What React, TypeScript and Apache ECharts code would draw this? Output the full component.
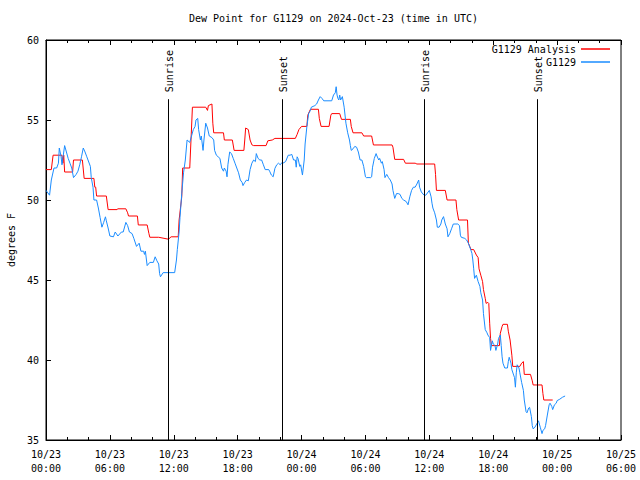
import React, { useEffect, useRef } from 'react';
import * as echarts from 'echarts';

// Times are minutes since 2024-10-23 00:00 UTC
const anaMinutes = [0, 30, 40, 90, 95, 100, 105, 150, 155, 205, 215, 270, 275, 280, 285, 340, 350, 400, 405, 450, 460, 465, 515, 520, 570, 580, 585, 635, 690, 705, 745, 750, 765, 770, 810, 820, 825, 900, 910, 915, 935, 940, 945, 1000, 1005, 1050, 1060, 1115, 1120, 1125, 1140, 1150, 1160, 1170, 1240, 1250, 1275, 1290, 1405, 1415, 1425, 1440, 1470, 1475, 1490, 1535, 1540, 1550, 1595, 1605, 1610, 1655, 1665, 1715, 1720, 1730, 1780, 1790, 1835, 1845, 1950, 1955, 1965, 2015, 2025, 2080, 2090, 2190, 2195, 2200, 2250, 2260, 2310, 2315, 2325, 2375, 2380, 2395, 2410, 2425, 2435, 2440, 2450, 2460, 2465, 2475, 2480, 2490, 2495, 2500, 2505, 2510, 2555, 2560, 2570, 2575, 2600, 2605, 2615, 2625, 2630, 2670, 2680, 2690, 2695, 2730, 2740, 2745, 2795, 2800, 2805, 2855];
const anaValues = [51.9, 51.9, 52.8, 52.8, 52.3, 52.8, 51.75, 51.75, 52.5, 52.5, 51.35, 51.35, 50.8, 50.8, 50.25, 50.25, 49.4, 49.4, 49.45, 49.45, 49.2, 49.0, 49.0, 48.44, 48.44, 47.9, 47.67, 47.67, 47.55, 47.7, 47.7, 48.75, 50.2, 52.0, 52.0, 54.5, 55.8, 55.8, 55.6, 55.9, 56.0, 54.8, 54.2, 54.2, 53.75, 53.75, 53.1, 53.1, 53.75, 54.5, 54.4, 53.75, 53.45, 53.4, 53.4, 53.7, 53.75, 53.85, 53.85, 54.1, 54.4, 54.6, 54.6, 55.3, 55.67, 55.67, 55.1, 54.6, 54.6, 55.3, 55.4, 55.4, 55.04, 55.04, 54.6, 54.2, 54.2, 54.0, 54.0, 53.44, 53.44, 53.3, 52.54, 52.54, 52.3, 52.3, 52.25, 52.25, 51.6, 50.6, 50.6, 50.0, 50.0, 49.4, 48.75, 48.75, 47.3, 46.9, 46.9, 46.56, 46.4, 45.7, 45.3, 44.9, 44.4, 43.85, 43.54, 43.6, 43.54, 42.3, 41.35, 40.9, 40.9, 41.67, 42.1, 42.23, 42.23, 41.8, 41.25, 40.3, 39.6, 39.6, 39.8, 39.9, 39.1, 39.1, 38.7, 38.44, 38.44, 37.9, 37.5, 37.5];

const obsMinutes = [0, 20, 30, 45, 60, 70, 75, 85, 90, 105, 115, 125, 135, 145, 155, 170, 180, 190, 200, 210, 220, 230, 250, 255, 265, 270, 285, 295, 305, 315, 325, 335, 340, 350, 360, 380, 390, 405, 425, 435, 450, 460, 470, 485, 495, 510, 525, 535, 550, 555, 560, 570, 585, 605, 615, 625, 635, 640, 645, 660, 725, 735, 740, 750, 755, 765, 775, 785, 795, 810, 830, 840, 845, 855, 860, 870, 875, 885, 890, 900, 910, 920, 935, 945, 950, 960, 970, 980, 990, 1000, 1005, 1015, 1020, 1025, 1035, 1045, 1055, 1065, 1075, 1085, 1095, 1105, 1110, 1120, 1130, 1140, 1150, 1160, 1170, 1180, 1185, 1195, 1205, 1215, 1225, 1235, 1255, 1260, 1270, 1280, 1290, 1300, 1310, 1320, 1330, 1335, 1350, 1365, 1375, 1385, 1395, 1405, 1410, 1415, 1420, 1430, 1435, 1445, 1455, 1460, 1470, 1480, 1490, 1495, 1505, 1515, 1525, 1535, 1545, 1555, 1565, 1610, 1620, 1630, 1635, 1640, 1645, 1650, 1655, 1660, 1670, 1680, 1690, 1700, 1710, 1715, 1720, 1730, 1740, 1750, 1760, 1770, 1780, 1790, 1800, 1805, 1830, 1835, 1840, 1850, 1860, 1865, 1875, 1880, 1890, 1895, 1905, 1910, 1920, 1930, 1940, 1950, 1955, 1965, 1975, 1985, 1995, 2005, 2015, 2030, 2040, 2050, 2060, 2070, 2080, 2090, 2100, 2105, 2115, 2130, 2140, 2160, 2170, 2175, 2180, 2190, 2200, 2205, 2215, 2225, 2230, 2240, 2250, 2260, 2265, 2275, 2285, 2295, 2305, 2320, 2330, 2335, 2340, 2360, 2370, 2380, 2390, 2400, 2405, 2410, 2415, 2425, 2435, 2445, 2450, 2460, 2465, 2475, 2485, 2490, 2500, 2505, 2515, 2520, 2530, 2535, 2545, 2550, 2560, 2565, 2570, 2575, 2585, 2600, 2605, 2610, 2620, 2625, 2635, 2640, 2645, 2650, 2655, 2665, 2670, 2680, 2690, 2695, 2705, 2710, 2720, 2725, 2735, 2740, 2745, 2755, 2765, 2775, 2785, 2795, 2800, 2810, 2815, 2825, 2835, 2840, 2850, 2855, 2865, 2875, 2880, 2895, 2910, 2925];
const obsValues = [50.6, 50.3, 51.25, 52.0, 52.0, 52.3, 53.25, 52.7, 52.2, 53.4, 53.0, 52.6, 52.3, 52.0, 51.4, 51.6, 51.8, 52.2, 52.7, 53.25, 53.0, 52.7, 52.1, 51.4, 50.8, 50.0, 50.0, 49.5, 48.9, 48.3, 48.6, 48.95, 48.7, 48.25, 47.75, 47.7, 48.0, 47.75, 48.0, 48.0, 48.6, 48.4, 48.0, 47.9, 47.6, 47.1, 47.3, 46.8, 46.8, 46.6, 46.8, 45.9, 46.1, 46.1, 46.45, 46.2, 46.0, 45.4, 45.2, 45.46, 45.46, 46.25, 46.9, 48.0, 48.9, 50.4, 51.7, 52.5, 53.75, 53.6, 54.4, 54.6, 55.0, 55.1, 54.4, 53.75, 54.0, 53.1, 53.75, 54.8, 54.5, 54.0, 53.9, 53.75, 53.1, 52.8, 52.7, 52.6, 52.0, 51.8, 52.0, 51.8, 51.45, 52.2, 53.0, 52.9, 52.6, 52.3, 52.0, 51.7, 51.25, 51.1, 50.9, 51.1, 51.25, 51.2, 51.9, 52.3, 52.5, 52.4, 52.9, 52.6, 52.5, 52.5, 52.2, 51.9, 51.9, 51.8, 51.56, 51.45, 51.98, 52.2, 52.3, 52.2, 52.35, 52.3, 52.4, 52.8, 52.8, 52.85, 52.5, 52.5, 52.05, 52.7, 52.6, 52.1, 52.2, 51.56, 52.5, 53.5, 54.6, 55.4, 55.6, 55.8, 55.85, 55.9, 56.0, 56.25, 56.46, 56.35, 56.2, 56.2, 56.56, 56.7, 57.08, 56.56, 56.35, 56.25, 56.56, 56.25, 56.46, 55.8, 54.8, 54.2, 53.75, 53.4, 53.1, 53.2, 53.35, 53.3, 53.0, 52.5, 52.5, 52.1, 51.45, 51.4, 51.4, 51.45, 52.05, 52.6, 52.9, 52.75, 52.5, 52.6, 52.3, 52.4, 51.9, 51.4, 51.6, 51.4, 51.25, 51.0, 50.6, 50.1, 50.4, 50.4, 50.35, 50.1, 50.0, 49.9, 49.7, 50.2, 50.6, 50.8, 50.8, 51.0, 51.25, 50.8, 50.5, 50.3, 50.3, 50.6, 50.2, 49.8, 49.5, 49.2, 48.75, 48.3, 48.3, 48.5, 48.75, 48.96, 48.5, 48.2, 47.7, 47.9, 48.2, 48.5, 48.5, 48.5, 48.4, 47.8, 47.67, 47.6, 47.5, 47.3, 47.0, 46.67, 46.25, 45.7, 45.1, 45.3, 44.9, 44.6, 44.2, 43.75, 42.9, 41.9, 41.7, 41.56, 41.4, 40.6, 41.2, 41.0, 40.9, 40.6, 41.0, 41.35, 41.56, 40.9, 40.2, 39.8, 39.5, 39.5, 39.9, 40.17, 39.8, 39.4, 39.06, 38.9, 38.3, 39.2, 39.7, 39.5, 39.2, 38.6, 38.1, 37.5, 36.77, 36.7, 37.0, 37.04, 36.46, 35.9, 35.7, 35.8, 36.0, 36.2, 35.8, 35.4, 35.6, 35.7, 35.9, 36.56, 37.2, 37.3, 37.1, 36.9, 37.2, 37.3, 37.46, 37.55, 37.67, 37.75];

const sunMinutes = [687, 1331, 2130, 2768];
const sunLabels = ['Sunrise', 'Sunset', 'Sunrise', 'Sunset'];

const xMin = 0;
const xMax = 3240;
const xStep = 360;
const yMin = 35;
const yMax = 60;
const yStep = 5;
const sunLineTop = 56.3;

const FONT = '"DejaVu Sans Mono", "Liberation Mono", monospace';

function fmtX(v: number): string {
  const day = 23 + Math.floor(v / 1440);
  const m = v % 1440;
  const hh = String(Math.floor(m / 60)).padStart(2, '0');
  const mm = String(m % 60).padStart(2, '0');
  return `10/${day}\n${hh}:${mm}`;
}

export default function App() {
  const ref = useRef<HTMLDivElement>(null);
  useEffect(() => {
    if (!ref.current) return;
    const chart = echarts.init(ref.current, undefined, { renderer: 'svg' });
    const txt = { fontFamily: FONT, fontSize: 10, color: '#000' };
    const legendCommon = {
      orient: 'vertical' as const,
      right: 30,
      align: 'right' as const,
      itemWidth: 29,
      itemHeight: 1.5,
      icon: 'rect',
      padding: 0,
      itemGap: 0,
      selectedMode: false,
      textStyle: { ...txt, lineHeight: 12 },
    };
    const xCommon = {
      type: 'value' as const,
      min: xMin,
      max: xMax,
      interval: xStep,
      axisLine: { show: true, lineStyle: { color: '#000', width: 1 } },
      axisTick: { show: true, inside: true, length: 5, lineStyle: { color: '#000' } },
      minorTick: { show: true, splitNumber: 3, length: 3, lineStyle: { color: '#000' } },
      splitLine: { show: false },
      minorSplitLine: { show: false },
    };
    chart.setOption({
      animation: false,
      backgroundColor: '#fff',
      title: {
        text: 'Dew Point for G1129 on 2024-Oct-23 (time in UTC)',
        left: 189,
        top: 13,
        padding: 0,
        textStyle: { ...txt, fontWeight: 'normal' },
      },
      legend: [
        { ...legendCommon, top: 43, data: ['G1129 Analysis'] },
        { ...legendCommon, top: 56, data: ['G1129'] },
      ],
      grid: {
        left: 46,
        right: 19,
        top: 40,
        bottom: 40,
        show: true,
        borderColor: '#000',
        borderWidth: 1,
        backgroundColor: 'transparent',
        containLabel: false,
        outerBoundsMode: 'none',
      },
      xAxis: [
        {
          ...xCommon,
          position: 'bottom',
          axisLabel: { ...txt, formatter: fmtX, lineHeight: 14, margin: 7, showMinLabel: true, showMaxLabel: true },
        },
        {
          ...xCommon,
          position: 'top',
          axisLabel: { show: false },
        },
      ],
      yAxis: {
        type: 'value',
        min: yMin,
        max: yMax,
        interval: yStep,
        name: 'degrees F',
        nameLocation: 'middle',
        nameGap: 29,
        nameTextStyle: { ...txt },
        axisLine: { show: true, lineStyle: { color: '#000' } },
        axisTick: { show: true, inside: true, length: 5, lineStyle: { color: '#000' } },
        axisLabel: { ...txt, margin: 7 },
        splitLine: { show: false },
      },
      series: [
        {
          name: 'G1129 Analysis',
          type: 'line',
          data: anaMinutes.map((m, i) => [m, anaValues[i]]),
          symbol: 'none',
          showSymbol: false,
          lineStyle: { color: '#ff0000', width: 1 },
          itemStyle: { color: '#ff0000' },
          z: 2,
        },
        {
          name: 'G1129',
          type: 'line',
          data: obsMinutes.map((m, i) => [m, obsValues[i]]),
          symbol: 'none',
          showSymbol: false,
          lineStyle: { color: '#1a8cff', width: 1 },
          itemStyle: { color: '#1a8cff' },
          z: 3,
        },
        {
          name: 'sun',
          type: 'custom',
          silent: true,
          z: 4,
          data: sunMinutes.map((m) => [m]),
          encode: { x: 0 },
          renderItem: (params: any, api: any) => {
            const m = api.value(0);
            const pb = api.coord([m, yMin]);
            const pt = api.coord([m, sunLineTop]);
            const x = Math.round(pb[0]) + 0.5;
            return {
              type: 'group',
              children: [
                {
                  type: 'line',
                  shape: { x1: x, y1: pb[1], x2: x, y2: pt[1] },
                  style: { stroke: '#000', lineWidth: 1 },
                },
                {
                  type: 'text',
                  x: x + 1,
                  y: pt[1] - 7,
                  rotation: Math.PI / 2,
                  style: {
                    text: sunLabels[params.dataIndex],
                    fill: '#000',
                    font: `10px ${FONT}`,
                    align: 'left',
                    verticalAlign: 'middle',
                  },
                },
              ],
            };
          },
        },
      ],
    });
    return () => chart.dispose();
  }, []);
  return <div ref={ref} style={{ position: 'absolute', left: 0, top: 0, width: 640, height: 480 }} />;
}
